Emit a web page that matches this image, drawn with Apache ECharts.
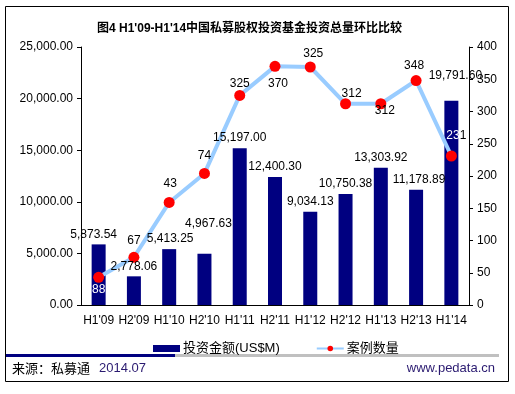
<!DOCTYPE html>
<html>
<head>
<meta charset="utf-8">
<script src="https://cdn.jsdelivr.net/npm/echarts@6/dist/echarts.min.js"></script>
<style>html,body{margin:0;padding:0;background:#fff}#c{width:515px;height:394px}</style>
</head>
<body>
<div id="c"></div>
<script>
var categories = ["H1'09","H2'09","H1'10","H2'10","H1'11","H2'11","H1'12","H2'12","H1'13","H2'13","H1'14"];
var amounts = [5873.54, 2778.06, 5413.25, 4967.63, 15197.00, 12400.30, 9034.13, 10750.38, 13303.92, 11178.89, 19791.60];
var counts = [43, 74, 159, 204, 325, 370, 369, 312, 312, 348, 231];
var countLabels = ["88","67","43","74","325","370","325","312","312","348","231"];
var leftTicks = [0, 5000, 10000, 15000, 20000, 25000];
var rightTicks = [0, 50, 100, 150, 200, 250, 300, 350, 400];

var FONT = "'Liberation Sans', Arial, 'Noto Sans CJK SC', sans-serif";
function fmt(v){ return v.toLocaleString('en-US',{minimumFractionDigits:2,maximumFractionDigits:2}); }

// label offsets (styling only)
var barLabelOffsets = [[-5,0],[0,0],[1,0],[4,-20],[0,0],[0,0],[0,0],[0,0],[0,0],[3,0],[4,-15]];
var lineLabelOffsets = [[0,12],[0,-17],[1,-19],[0,-18],[0,-12],[3,17],[3,-13],[6,-10],[4,7],[-2,-15],[5,-20]];

var barLabelData = amounts.map(function(v,i){
  return {value:v, label:{offset:barLabelOffsets[i]}};
});
var lineData = counts.map(function(v,i){
  var lab = {offset:lineLabelOffsets[i], formatter: countLabels[i]};
  if (i === 0) lab.color = '#fff';
  if (i === counts.length-1) {
    lab.formatter = '{w|' + countLabels[i].slice(0,2) + '}{k|' + countLabels[i].slice(2) + '}';
    lab.rich = {w:{color:'#fff',fontSize:12,fontFamily:FONT}, k:{color:'#000',fontSize:12,fontFamily:FONT}};
  }
  return {value:v, label:lab};
});

var chart = echarts.init(document.getElementById('c'), null, {renderer:'canvas'});
chart.setOption({
  animation:false,
  backgroundColor:'#fff',
  title:{
    text:"图4 H1'09-H1'14中国私募股权投资基金投资总量环比比较",
    left:92, top:18,
    textStyle:{fontSize:12, fontWeight:'bold', color:'#000', fontFamily:FONT}
  },
  grid:{left:81, right:46, top:47, bottom:89, containLabel:false},
  legend:{
    left:148, top:337, itemWidth:27, itemHeight:7, itemGap:36,
    textStyle:{fontSize:13, color:'#000', fontFamily:FONT, padding:[0,0,0,-2]},
    data:[{name:'投资金额(US$M)', icon:'rect'}, {name:'案例数量'}]
  },
  xAxis:{
    type:'category', data:categories,
    axisLine:{lineStyle:{color:'#000', width:1}},
    axisTick:{inside:true, length:4, lineStyle:{color:'#000'}},
    axisLabel:{color:'#000', fontSize:12, fontFamily:FONT, margin:10, interval:0}
  },
  yAxis:[{
    type:'value', min:0, max:25000, interval:5000,
    axisLine:{show:true, lineStyle:{color:'#000'}},
    axisTick:{show:true, length:4, lineStyle:{color:'#000'}},
    splitLine:{show:false},
    axisLabel:{color:'#000', fontSize:12, fontFamily:FONT, margin:8, formatter:function(v){return fmt(v);}}
  },{
    type:'value', min:0, max:400, interval:50,
    axisLine:{show:true, lineStyle:{color:'#000'}},
    axisTick:{show:true, length:4, lineStyle:{color:'#000'}},
    splitLine:{show:false},
    axisLabel:{color:'#000', fontSize:12, fontFamily:FONT, margin:8}
  }],
  series:[{
    name:'投资金额(US$M)', type:'bar', data:amounts, barWidth:14, yAxisIndex:0, z:2,
    itemStyle:{color:'#000080'}
  },{
    name:'案例数量', type:'line', data:lineData, yAxisIndex:1, z:3,
    lineStyle:{color:'#99CCFF', width:4},
    itemStyle:{color:'#FF0000', borderWidth:0},
    symbol:'circle', symbolSize:11,
    label:{show:true, position:'inside', color:'#000', fontSize:12, fontFamily:FONT}
  },{
    name:'labels', type:'bar', data:barLabelData, barWidth:14, barGap:'-100%', yAxisIndex:0, z:5,
    itemStyle:{color:'rgba(0,0,0,0)'}, silent:true,
    label:{show:true, position:'top', distance:4, color:'#000', fontSize:12, fontFamily:FONT,
      formatter:function(p){return fmt(p.value);}}
  }],
  graphic:[
    {type:'rect', shape:{x:5.5,y:6.5,width:503,height:375}, style:{fill:null, stroke:'#000', lineWidth:1}, z:100},
    {type:'rect', shape:{x:6,y:354,width:169,height:3}, style:{fill:'#000080'}},
    {type:'rect', shape:{x:175,y:354,width:324,height:3}, style:{fill:'#C0C0C0'}},
    {type:'text', left:12, top:362, style:{text:'来源：私募通', fill:'#000', font:"13px 'Noto Sans CJK SC', sans-serif"}},
    {type:'text', left:99, top:362, style:{text:'2014.07', fill:'#2A1A70', font:"13px 'Liberation Sans', Arial, sans-serif"}},
    {type:'text', right:20, top:362, style:{text:'www.pedata.cn', fill:'#2A1A70', font:"13px 'Liberation Sans', Arial, sans-serif"}}
  ]
});
</script>
</body>
</html>
